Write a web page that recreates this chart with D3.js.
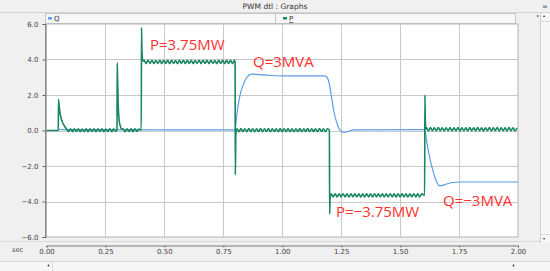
<!DOCTYPE html>
<html>
<head>
<meta charset="utf-8">
<script src="https://cdn.jsdelivr.net/npm/d3@7"></script>
<style>
	body{margin:0;background:#f0f0f0;}
	svg{display:block;font-family:"DejaVu Sans",sans-serif;}
</style>
</head>
<body>
<div id="chart"></div>
<script>
// time axis (sec) and value axis ticks
var xTicks = [0,0.25,0.5,0.75,1,1.25,1.5,1.75,2]
var yTicks = [-6,-4,-2,0,2,4,6]

// P: spikes / steps as [sec, value]
var pStart = [[0,0],[0.05,0],[0.051,1.75],[0.054,1.35],[0.058,0.95],[0.063,0.65],[0.068,0.45],[0.074,0.3],[0.08,0.17]]
var pSpike1 = [[0.299,0.04],[0.3,3.8],[0.301,3.25],[0.304,1.5],[0.308,0.6],[0.313,0.25],[0.319,0.08]]
var pSpike2 = [[0.402,0.02],[0.403,5.8],[0.405,4.4],[0.409,3.9]]
var pStep1 = [[0.8,3.86],[0.801,-2.5],[0.803,-0.3],[0.805,0.02]]
var pStep2 = [[1.2,0.02],[1.201,-4.7],[1.203,-3.8],[1.205,-3.66]]
var pStep3 = [[1.604,-3.65],[1.605,2.0],[1.607,0.5],[1.609,0.08]]

// P ripple, one value each 1/120 s
var rippleStep = 1/120
var ripple1 = {start:0.085, values:[0.09,-0.06,0.1,-0.07,0.09,-0.06,0.1,-0.07,0.08,-0.06,0.09,-0.07,0.1,-0.06,0.09,-0.07,0.1,-0.06,0.09,-0.07,0.08,-0.06,0.1,-0.07,0.09,-0.06]}
var ripple2 = {start:0.325, values:[0.09,-0.07,0.1,-0.06,0.09,-0.07,0.1,-0.06,0.08]}
var ripple3 = {start:0.414, values:[3.95,3.77,3.96,3.78,3.95,3.77,3.94,3.78,3.96,3.77,3.95,3.78,3.95,3.77,3.96,3.78,3.94,3.77,3.95,3.78,3.96,3.77,3.95,3.78,3.95,3.77,3.94,3.78,3.96,3.77,3.95,3.78,3.95,3.77,3.96,3.78,3.94,3.77,3.95,3.78,3.96,3.77,3.95,3.78,3.95,3.77,3.95]}
var ripple4 = {start:0.808, values:[0.1,-0.07,0.11,-0.06,0.1,-0.07,0.11,-0.06,0.1,-0.07,0.1,-0.06,0.11,-0.07,0.1,-0.06,0.11,-0.07,0.1,-0.06,0.1,-0.07,0.11,-0.06,0.1,-0.07,0.11,-0.06,0.1,-0.07,0.1,-0.06,0.11,-0.07,0.1,-0.06,0.11,-0.07,0.1,-0.06,0.1,-0.07,0.11,-0.06,0.1,-0.07,0.1]}
var ripple5 = {start:1.208, values:[-3.57,-3.74,-3.56,-3.75,-3.57,-3.74,-3.56,-3.74,-3.57,-3.75,-3.56,-3.74,-3.57,-3.74,-3.56,-3.75,-3.57,-3.74,-3.56,-3.74,-3.57,-3.75,-3.56,-3.74,-3.57,-3.74,-3.56,-3.75,-3.57,-3.74,-3.56,-3.74,-3.57,-3.75,-3.56,-3.74,-3.57,-3.74,-3.56,-3.75,-3.57,-3.74,-3.56,-3.74,-3.57,-3.75,-3.57]}
var ripple6 = {start:1.612, values:[0.15,-0.02,0.16,-0.01,0.15,-0.02,0.16,-0.01,0.15,-0.02,0.15,-0.01,0.16,-0.02,0.15,-0.01,0.16,-0.02,0.15,-0.01,0.15,-0.02,0.16,-0.01,0.15,-0.02,0.16,-0.01,0.15,-0.02,0.15,-0.01,0.16,-0.02,0.15,-0.01,0.16,-0.02,0.15,-0.01,0.15,-0.02,0.16,-0.01,0.15,-0.02,0.15]}

// Q: [sec, value]
var qSeries = [[0,0],[0.05,0],[0.053,0.08],[0.06,0.05],[0.8,0.03],[0.805,0.6],[0.815,1.6],[0.825,2.2],[0.835,2.6],[0.85,3.0],[0.87,3.18],[0.9,3.15],[0.95,3.1],[1.0,3.08],[1.18,3.08],[1.19,3.0],[1.2,2.6],[1.21,1.8],[1.22,1.0],[1.235,0.3],[1.25,-0.05],[1.26,-0.1],[1.28,-0.05],[1.3,0.03],[1.6,0.05],[1.605,0.0],[1.615,-0.8],[1.625,-1.5],[1.64,-2.3],[1.655,-2.9],[1.67,-3.12],[1.69,-3.05],[1.72,-2.93],[1.76,-2.9],[2.0,-2.9]]

// red notes
var notes = [
	{text:"P=3.75MW", t:0.439, v:4.56},
	{text:"Q=3MVA", t:0.876, v:3.6},
	{text:"P=\u22123.75MW", t:1.228, v:-4.9},
	{text:"Q=\u22123MVA", t:1.682, v:-4.23}
]

var W = 550, H = 271
var margin = {top:24, left:46.5, right:518, bottom:237}
var qColour = "#5b9de6", pColour = "#17875f"

var x = d3.scaleLinear().domain([0,2]).range([margin.left, margin.right])
var y = d3.scaleLinear().domain([-6,6]).range([margin.bottom, margin.top])

var seg = r => r.values.map((v,i)=>[r.start + i*rippleStep, v])
var pSeries = [].concat(pStart, seg(ripple1), pSpike1, seg(ripple2), pSpike2, seg(ripple3),
	pStep1, seg(ripple4), pStep2, seg(ripple5), pStep3, seg(ripple6))

var svg = d3.select("#chart").append("svg")
	.attr("width", W)
	.attr("height", H)

// window chrome
svg.append("rect").attr("width",W).attr("height",H).attr("fill","#f0f0f0")
svg.append("line").attr("x1",0).attr("x2",W).attr("y1",12.5).attr("y2",12.5).attr("stroke","#d4d4d4")
svg.append("text").attr("x",275).attr("y",9).attr("text-anchor","middle")
	.attr("font-size",7.5).attr("fill","#333").text("PWM  dtl : Graphs")
svg.append("text").attr("x",545).attr("y",9).attr("text-anchor","middle")
	.attr("font-size",7).attr("fill","#555").text("=")

// legend header row
svg.append("rect").attr("x",45.5).attr("y",13.5).attr("width",470).attr("height",10)
	.attr("fill","#f7f7f7").attr("stroke","#c6c6c6")
svg.append("line").attr("x1",275.5).attr("x2",275.5).attr("y1",13.5).attr("y2",23.5).attr("stroke","#c6c6c6")
var legend = [{name:"Q", x:48, colour:qColour, underline:false},{name:"P", x:283, colour:pColour, underline:true}]
legend.forEach(l=>{
	svg.append("rect").attr("x",l.x).attr("y",17).attr("width",4).attr("height",2.5).attr("fill",l.colour)
	svg.append("text").attr("x",l.x+6).attr("y",21).attr("font-size",7).attr("fill","#333")
		.attr("text-decoration", l.underline ? "underline" : null).text(l.name)
})

// plot background
svg.append("rect").attr("x",margin.left-1).attr("y",margin.top)
	.attr("width",margin.right-margin.left+1).attr("height",margin.bottom-margin.top)
	.attr("fill","#fff").attr("stroke","#b4b4b4")

// grid
svg.append("g").selectAll("line").data(xTicks.slice(1,-1)).enter().append("line")
	.attr("x1",d=>Math.round(x(d))+0.5).attr("x2",d=>Math.round(x(d))+0.5)
	.attr("y1",margin.top).attr("y2",margin.bottom)
	.attr("stroke","#c8c8c8")
svg.append("g").selectAll("line").data(yTicks.slice(1,-1)).enter().append("line")
	.attr("x1",margin.left).attr("x2",margin.right)
	.attr("y1",d=>Math.round(y(d))+0.5).attr("y2",d=>Math.round(y(d))+0.5)
	.attr("stroke","#c8c8c8")

// y axis
var yAxis = d3.axisLeft(y).tickValues(yTicks).tickSize(3).tickFormat(d3.format(".1f"))
var gy = svg.append("g").attr("transform",`translate(${margin.left-1},0)`).call(yAxis)
gy.select(".domain").attr("stroke","#666")
gy.selectAll(".tick line").attr("stroke","#666")
gy.selectAll("text").attr("font-size",7).attr("fill","#444").attr("font-family","DejaVu Sans").attr("dx",-1)

// x axis strip
svg.append("line").attr("x1",0).attr("x2",W).attr("y1",241.5).attr("y2",241.5).attr("stroke","#d8d8d8")
var xAxis = d3.axisBottom(x).tickValues(xTicks).tickSize(2).tickFormat(d3.format(".2f"))
var gx = svg.append("g").attr("transform","translate(0,245.5)").call(xAxis)
gx.select(".domain").attr("stroke","#777")
gx.selectAll(".tick line").attr("stroke","#777")
gx.selectAll("text").attr("font-size",7).attr("fill","#444").attr("font-family","DejaVu Sans").attr("dy","0.55em")
svg.append("text").attr("x",12).attr("y",252).attr("font-size",6.5).attr("fill","#444").text("sec")

// bottom scrollbar
svg.append("rect").attr("x",0).attr("y",261.5).attr("width",W).attr("height",10).attr("fill","#f7f7f7")
svg.append("line").attr("x1",0).attr("x2",W).attr("y1",261.5).attr("y2",261.5).attr("stroke","#d8d8d8")
svg.append("line").attr("x1",52.5).attr("x2",52.5).attr("y1",262).attr("y2",271).attr("stroke","#d8d8d8")
svg.append("circle").attr("cx",48.5).attr("cy",265.5).attr("r",0.9).attr("fill","#333")
svg.append("circle").attr("cx",513.5).attr("cy",265.5).attr("r",0.9).attr("fill","#333")

// right scrollbar
svg.append("rect").attr("x",540).attr("y",13).attr("width",10).attr("height",230).attr("fill","#f7f7f7")
svg.append("line").attr("x1",540.5).attr("x2",540.5).attr("y1",13).attr("y2",243).attr("stroke","#cfcfcf")
svg.append("line").attr("x1",540).attr("x2",550).attr("y1",21.5).attr("y2",21.5).attr("stroke","#dcdcdc")
svg.append("line").attr("x1",540).attr("x2",550).attr("y1",234.5).attr("y2",234.5).attr("stroke","#dcdcdc")
svg.append("text").attr("x",537).attr("y",17).attr("font-size",4).attr("fill","#333").text("\u25B8")
svg.append("text").attr("x",543).attr("y",17).attr("font-size",4).attr("fill","#333").text("\u25B4")
svg.append("text").attr("x",543).attr("y",240).attr("font-size",4).attr("fill","#333").text("\u25BE")

// series
var plot = svg.append("g")
var line = d3.line().x(d=>x(d[0])).y(d=>y(d[1])).curve(d3.curveMonotoneX)
plot.append("path").datum(qSeries)
	.attr("d",line).attr("fill","none").attr("stroke",qColour).attr("stroke-width",1.2)
plot.append("path").datum(pSeries)
	.attr("d",line).attr("fill","none").attr("stroke",pColour).attr("stroke-width",1.6)

// notes
svg.append("g").selectAll("text").data(notes).enter().append("text")
	.attr("x",d=>x(d.t)).attr("y",d=>y(d.v))
	.attr("font-family","'Open Sans',sans-serif").attr("font-size",15)
	.attr("fill","#ff3030").text(d=>d.text)
</script>
</body>
</html>
